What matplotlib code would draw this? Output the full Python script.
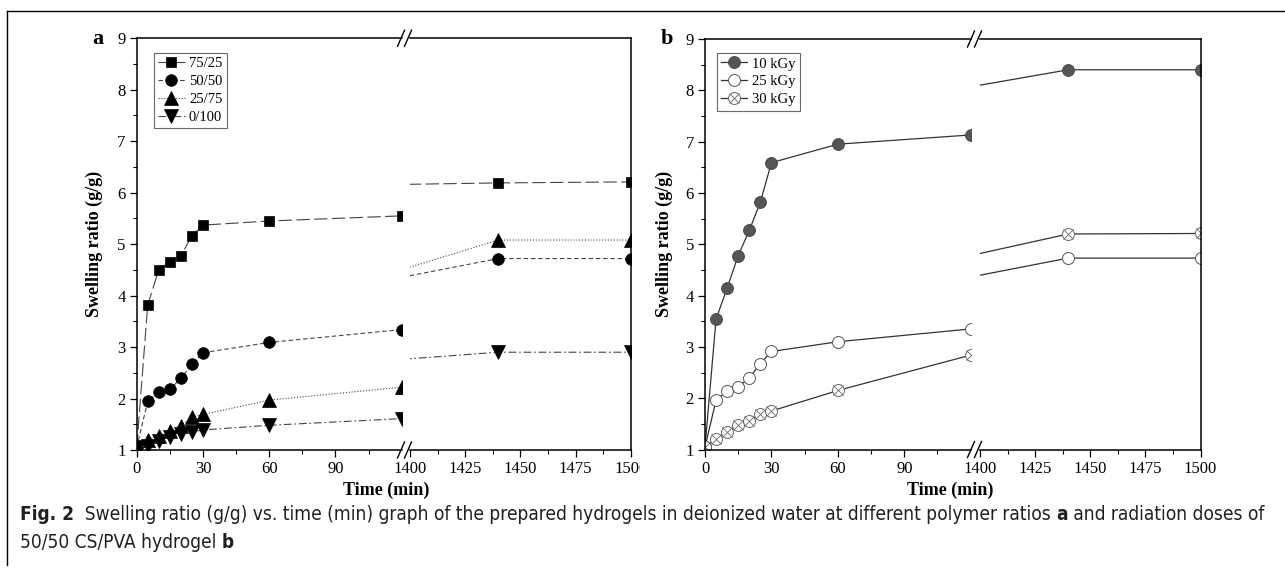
import matplotlib
matplotlib.use("Agg")
import matplotlib.pyplot as plt
from matplotlib import font_manager as fm
from matplotlib.lines import Line2D
from matplotlib.ticker import MultipleLocator, FixedLocator
from matplotlib.transforms import Bbox, TransformedBbox

# sampling times (min); the 1380 min reading sits inside the axis break
time_min = [0, 5, 10, 15, 20, 25, 30, 60, 120, 1380, 1440, 1500]

# panel a: CS/PVA polymer ratios
ratio_labels = ["75/25", "50/50", "25/75", "0/100"]
sr_75_25 = [1.05, 3.82, 4.50, 4.66, 4.77, 5.16, 5.37, 5.45, 5.55, 6.15, 6.19, 6.21]
sr_50_50 = [1.05, 1.95, 2.13, 2.18, 2.39, 2.67, 2.89, 3.09, 3.34, 4.22, 4.72, 4.72]
sr_25_75 = [1.05, 1.20, 1.28, 1.37, 1.47, 1.64, 1.69, 1.97, 2.22, 4.29, 5.08, 5.08]
sr_0_100 = [1.05, 1.08, 1.18, 1.25, 1.31, 1.35, 1.39, 1.48, 1.61, 2.71, 2.90, 2.90]

# panel b: irradiation dose of the 50/50 gel
dose_labels = ["10 kGy", "25 kGy", "30 kGy"]
sr_10kgy = [1.05, 3.54, 4.15, 4.78, 5.27, 5.82, 6.59, 6.95, 7.13, 7.95, 8.40, 8.40]
sr_25kgy = [1.05, 1.96, 2.14, 2.22, 2.40, 2.67, 2.91, 3.10, 3.35, 4.23, 4.73, 4.73]
sr_30kgy = [1.05, 1.21, 1.34, 1.47, 1.55, 1.70, 1.75, 2.15, 2.84, 4.63, 5.20, 5.21]

left_ticks = [0, 30, 60, 90]
right_ticks = [1400, 1425, 1450, 1475, 1500]

plt.rcParams["font.family"] = ["Liberation Serif", "DejaVu Serif"]
plt.rcParams["xtick.labelsize"] = 12
plt.rcParams["ytick.labelsize"] = 12

W, H = 1285, 573
fig = plt.figure(figsize=(W / 100, H / 100), dpi=100)


def px_axes(x0, y0, x1, y1):
    return fig.add_axes([x0 / W, 1 - y1 / H, (x1 - x0) / W, (y1 - y0) / H])


def px_line(xs, ys, lw=1.0, color="black"):
    fig.add_artist(Line2D([x / W for x in xs], [1 - y / H for y in ys],
                          lw=lw, color=color))


def style_pair(ax_l, ax_r):
    for ax in (ax_l, ax_r):
        ax.set_ylim(1, 9)
        for s in ax.spines.values():
            s.set_linewidth(1.1)
        ax.tick_params(which="major", direction="out", length=5, width=0.9,
                       pad=3)
        ax.tick_params(which="minor", direction="out", length=3, width=0.8)
        ax.tick_params(top=False, right=False)
    ax_l.set_xlim(0, 120)
    ax_l.xaxis.set_major_locator(FixedLocator(left_ticks))
    ax_l.xaxis.set_minor_locator(FixedLocator([15, 45, 75, 105]))
    ax_l.yaxis.set_major_locator(MultipleLocator(1))
    ax_l.yaxis.set_minor_locator(MultipleLocator(0.5))
    ax_l.spines["right"].set_visible(False)
    ax_r.set_xlim(1400, 1500)
    ax_r.xaxis.set_major_locator(FixedLocator(right_ticks))
    ax_r.xaxis.set_minor_locator(FixedLocator([1412.5, 1437.5, 1462.5, 1487.5]))
    ax_r.spines["left"].set_visible(False)
    ax_r.tick_params(axis="y", which="both", left=False, labelleft=False)


def break_marks(xa, xb, y_top, y_bot):
    for yc in (y_top, y_bot):
        for xc in (xa, xb):
            px_line([xc - 3.5, xc + 3.5], [yc + 8, yc - 8], lw=1.0)


def add_legend(ax, handles, labels, anchor):
    leg = ax.legend(handles, labels, loc="upper left", bbox_to_anchor=anchor,
                    borderaxespad=0, fontsize=10.5, frameon=True,
                    fancybox=False, borderpad=0.3, labelspacing=0.32,
                    handlelength=1.8, handletextpad=0.3)
    leg.get_frame().set_edgecolor("#444444")
    leg.get_frame().set_linewidth(0.8)
    return leg


# ---------------- panel a ----------------
a_l = px_axes(136.7, 38.3, 401.7, 450)
a_r = px_axes(410, 38.3, 630.7, 450)
style_pair(a_l, a_r)

a_series = [
    (sr_75_25, "s", 7.8, (0, (12, 4))),
    (sr_50_50, "o", 8.4, (0, (4, 2.5))),
    (sr_25_75, "^", 10.2, (0, (1, 1.6))),
    (sr_0_100, "v", 10.2, (0, (7, 2.5, 1.5, 2.5))),
]
a_handles = []
for (vals, mk, ms, ls), lab in zip(a_series, ratio_labels):
    for ax in (a_l, a_r):
        ln, = ax.plot(time_min, vals, color="#444444", lw=0.8, linestyle=ls,
                      marker=mk, markersize=ms, markerfacecolor="black",
                      markeredgecolor="black", markeredgewidth=0.5,
                      label=lab)
    a_handles.append(ln)

add_legend(a_l, a_handles, ratio_labels, (0.065, 0.965))

a_l.set_ylabel("Swelling ratio (g/g)", fontsize=13, fontweight="bold")
a_l.yaxis.set_label_coords(-0.128, 0.5)
fig.text(98 / W, 1 - 39 / H, "a", fontsize=16, fontweight="bold",
         ha="center", va="center")
fig.text(386 / W, 1 - 490 / H, "Time (min)", fontsize=13, fontweight="bold",
         ha="center", va="center")
break_marks(401, 408, 38.3, 450)

# "1500" under panel a runs into the panel b area and is cut there
clip = TransformedBbox(Bbox([[0, 0], [640 / W, 1]]), fig.transFigure)
for t in a_r.get_xticklabels():
    t.set_clip_box(clip)
    t.set_clip_on(True)

# ---------------- panel b ----------------
b_l = px_axes(705, 39, 970.7, 449.5)
b_r = px_axes(980, 39, 1200.5, 449.5)
style_pair(b_l, b_r)

for ax in (b_l, b_r):
    h10, = ax.plot(time_min, sr_10kgy, color="#333333", lw=0.9, marker="o",
                   markersize=8.6, markerfacecolor="#555555",
                   markeredgecolor="#444444", markeredgewidth=0.6)
    h25, = ax.plot(time_min, sr_25kgy, color="#333333", lw=0.9, marker="o",
                   markersize=8.6, markerfacecolor="white",
                   markeredgecolor="#555555", markeredgewidth=0.7)
    h30, = ax.plot(time_min, sr_30kgy, color="#333333", lw=0.9, marker="o",
                   markersize=8.6, markerfacecolor="white",
                   markeredgecolor="#666666", markeredgewidth=0.7)
    h30x, = ax.plot(time_min, sr_30kgy, linestyle="none", marker="x",
                    markersize=6.8, markeredgecolor="#666666",
                    markeredgewidth=0.6)
b_handles = [h10, h25, (h30, h30x)]

add_legend(b_l, b_handles, dose_labels, (0.044, 0.966))

b_l.set_ylabel("Swelling ratio (g/g)", fontsize=13, fontweight="bold")
b_l.yaxis.set_label_coords(-0.12, 0.5)
fig.text(667 / W, 1 - 39 / H, "b", fontsize=16, fontweight="bold",
         ha="center", va="center")
fig.text(950 / W, 1 - 490 / H, "Time (min)", fontsize=13, fontweight="bold",
         ha="center", va="center")
break_marks(971, 978, 39, 449.5)

# ---------------- caption frame ----------------
px_line([7, W], [11, 11], lw=1.0)
px_line([7, 7], [11, 565], lw=1.0)


def narrow_sans():
    # first sans family that ships a condensed cut
    wanted = ["Liberation Sans Narrow", "Noto Sans", "DejaVu Sans",
              "Open Sans", "Roboto"]
    cond = {"condensed", "semi-condensed", "extra-condensed",
            "ultra-condensed"}
    for name in wanted:
        for f in fm.fontManager.ttflist:
            if f.name == name and (str(f.stretch) in cond or name.endswith("Narrow")):
                return name, "condensed"
    return "DejaVu Sans", "normal"


cap_family, cap_stretch = narrow_sans()
line1 = [("Fig. 2", "bold"),
         ("  Swelling ratio (g/g) vs. time (min) graph of the prepared "
          "hydrogels in deionized water at different polymer ratios ", "normal"),
         ("a", "bold"),
         (" and radiation doses of", "normal")]
line2 = [("50/50 CS/PVA hydrogel ", "normal"), ("b", "bold")]

renderer = fig.canvas.get_renderer()


def caption_width(pieces, size):
    total = 0
    for txt, weight in pieces:
        t = fig.text(0, 0, txt, fontsize=size, fontweight=weight,
                     family=cap_family, fontstretch=cap_stretch)
        total += t.get_window_extent(renderer=renderer).width
        t.remove()
    return total


cap_size = 12 * (1262 - 20) / caption_width(line1, 12)


def caption_line(pieces, x, y):
    for txt, weight in pieces:
        t = fig.text(x / W, 1 - y / H, txt, fontsize=cap_size,
                     fontweight=weight, family=cap_family,
                     fontstretch=cap_stretch,
                     ha="left", va="center", color="#231f20")
        x += t.get_window_extent(renderer=renderer).width


caption_line(line1, 20, 514)
caption_line(line2, 20, 543)

fig.savefig("out.png", dpi=100)
